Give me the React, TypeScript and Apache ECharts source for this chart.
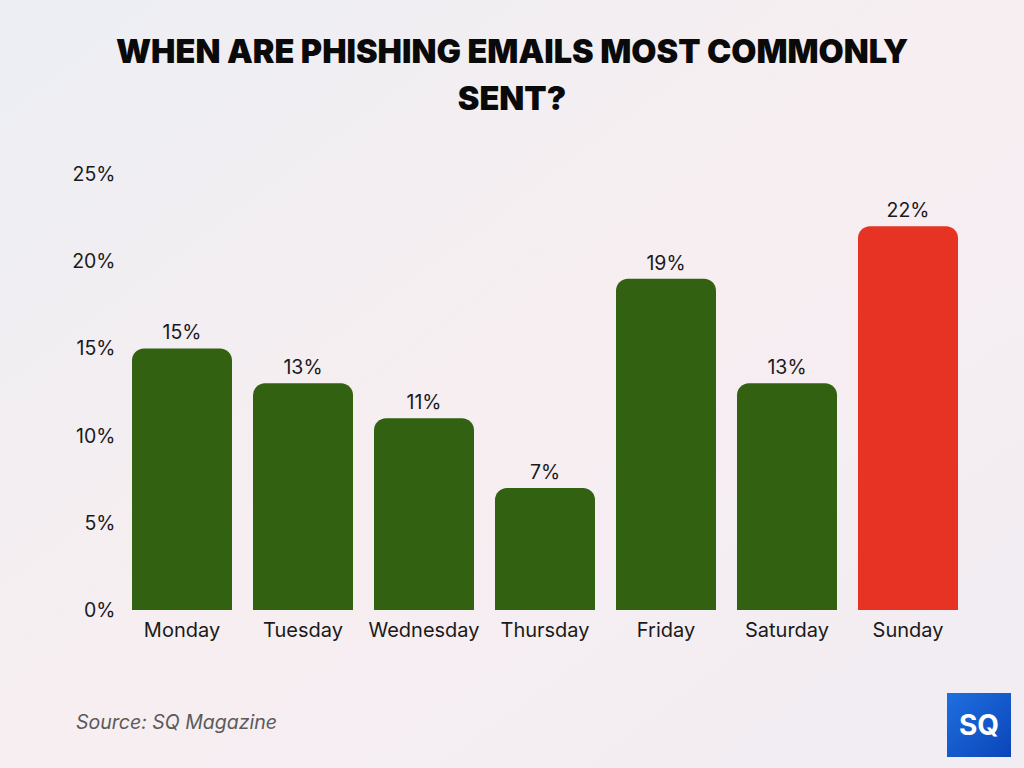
import React, { useEffect, useRef } from "react";
import * as echarts from "echarts";

const categories = ["Monday", "Tuesday", "Wednesday", "Thursday", "Friday", "Saturday", "Sunday"];
const values = [15, 13, 11, 7, 19, 13, 22];
const highlight = [false, false, false, false, false, false, true];
const titleLines = ["WHEN ARE PHISHING EMAILS MOST COMMONLY", "SENT?"];
const sourceText = "Source: SQ Magazine";

export default function App() {
  const ref = useRef<HTMLDivElement>(null);
  useEffect(() => {
    const chart = echarts.init(ref.current!, null, { renderer: "svg" });
    const font = "Inter, 'Noto Sans', sans-serif";
    chart.setOption({
      animation: false,
      backgroundColor: new echarts.graphic.LinearGradient(0, 0, 1, 1, [
        { offset: 0, color: "#eceef4" },
        { offset: 0.5, color: "#f7eef1" },
        { offset: 1, color: "#f1edf3" },
      ]),
      title: {
        text: titleLines.join("\n"),
        left: "center",
        top: 23,
        textStyle: {
          fontFamily: "Inter, sans-serif",
          fontWeight: 900,
          fontSize: 32.5,
          lineHeight: 47,
          color: "#0a0a0a",
        },
      },
      grid: { left: 121.5, right: 55.5, top: 174, bottom: 158 },
      xAxis: {
        type: "category",
        data: categories,
        axisLine: { show: false },
        axisTick: { show: false },
        axisLabel: { interval: 0, fontFamily: font, fontSize: 20, color: "#1a1a1a", margin: 10 },
      },
      yAxis: {
        type: "value",
        min: 0,
        max: 25,
        interval: 5,
        splitLine: { show: false },
        axisLabel: {
          fontFamily: font,
          fontSize: 19.5,
          color: "#1a1a1a",
          margin: 6,
          formatter: (v: number) => v + "%",
        },
      },
      series: [
        {
          type: "bar",
          barWidth: 100,
          data: values.map((v, i) => ({
            value: v,
            itemStyle: { color: highlight[i] ? "#e63323" : "#336112" },
          })),
          itemStyle: { borderRadius: [12, 12, 0, 0] },
          label: {
            show: true,
            position: "top",
            distance: 6,
            fontFamily: font,
            fontSize: 19.5,
            color: "#1a1a1a",
            formatter: (p: any) => p.value + "%",
          },
        },
      ],
      graphic: [
        {
          type: "text",
          left: 76,
          top: 712,
          style: {
            text: sourceText,
            fontFamily: font,
            fontStyle: "italic",
            fontSize: 19.5,
            fill: "#5a5a5a",
          },
        },
        {
          type: "rect",
          shape: { x: 947, y: 693, width: 64, height: 64 },
          style: {
            fill: new echarts.graphic.LinearGradient(0, 0, 1, 1, [
              { offset: 0, color: "#1f6fe0" },
              { offset: 1, color: "#0a45b8" },
            ]),
          },
        },
        {
          type: "text",
          x: 979,
          y: 725,
          style: {
            text: "SQ",
            fontFamily: "Inter, sans-serif",
            fontWeight: 700,
            fontSize: 28,
            fill: "#ffffff",
            align: "center",
            verticalAlign: "middle",
          },
        },
      ],
    });
    return () => chart.dispose();
  }, []);
  return <div ref={ref} style={{ width: 1024, height: 768, position: "absolute", left: 0, top: 0 }} />;
}
